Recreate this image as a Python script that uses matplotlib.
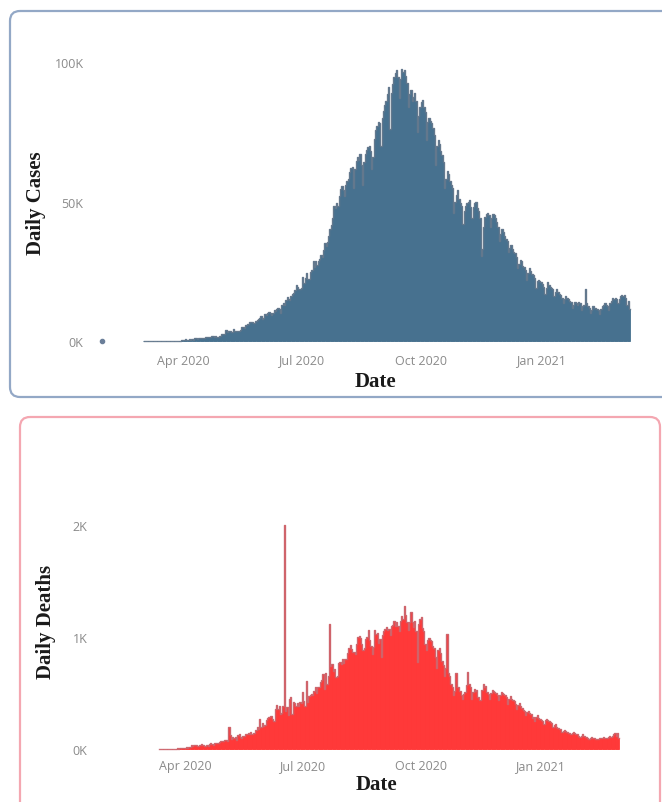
import numpy as np
import pandas as pd
import matplotlib
matplotlib.use('Agg')
import matplotlib.pyplot as plt
import matplotlib.dates as mdates
from matplotlib.patches import FancyBboxPatch

# first sporadic case (thousands)
early_dates = ['2020-01-30']
early_cases = [0.001]

# daily cases in thousands, from 2020-03-02, one week per row
cases_start = '2020-03-02'
cases = [
    0.002, 0.001, 0.022, 0.002, 0.001, 0.003, 0.005,
    0.004, 0.013, 0.006, 0.011, 0.009, 0.02, 0.011,
    0.006, 0.023, 0.014, 0.038, 0.05, 0.086, 0.066,
    0.103, 0.064, 0.111, 0.075, 0.153, 0.143, 0.148,
    0.106, 0.227, 0.4, 0.5, 0.6, 0.5, 0.5,
    0.6, 0.5, 0.6, 0.5, 0.9, 0.9, 0.8,
    0.9, 1.1, 0.9, 1.0, 0.9, 1.3, 1.6,
    1.5, 1.3, 1.6, 1.7, 1.8, 1.4, 1.8,
    1.6, 1.5, 1.9, 1.8, 2.4, 2.4, 2.6,
    3.9, 3.4, 3.6, 3.5, 3.3, 3.3, 4.3,
    3.6, 3.5, 3.7, 3.7, 3.9, 4.9, 5.0,
    4.6, 5.6, 5.6, 6.1, 6.7, 6.7, 6.8,
    6.5, 6.4, 7.2, 7.5, 7.9, 8.4, 8.8,
    8.0, 8.2, 9.6, 9.3, 9.9, 10.4, 9.9,
    9.2, 10.0, 11.1, 10.7, 11.5, 11.9, 11.5,
    10.2, 12.9, 13.6, 12.9, 14.7, 15.9, 15.2,
    14.8, 16.0, 16.9, 17.3, 18.2, 19.9, 19.4,
    18.6, 18.5, 19.1, 22.8, 20.9, 22.7, 24.3,
    22.3, 22.3, 24.9, 25.6, 28.6, 26.6, 28.6,
    27.1, 28.5, 29.4, 31.0, 30.2, 32.5, 35.0,
    34.0, 35.5, 37.5, 40.0, 41.5, 44.0, 48.5,
    47.5, 49.5, 48.5, 52.0, 54.5, 55.5, 54.0,
    52.0, 56.0, 57.5, 58.0, 60.5, 62.0, 62.5,
    55.0, 61.5, 64.5, 66.0, 65.0, 67.0, 63.0,
    56.0, 64.0, 67.0, 68.5, 69.5, 70.0, 68.0,
    61.5, 66.0, 72.5, 75.5, 77.0, 78.5, 78.0,
    70.0, 80.0, 82.5, 84.5, 86.0, 88.5, 91.0,
    76.0, 89.0, 92.0, 94.5, 96.0, 97.0, 94.5,
    87.0, 94.0, 97.5, 96.5, 97.0, 95.0, 92.5,
    84.0, 88.5, 90.0, 86.0, 87.5, 89.0, 86.0,
    75.0, 80.5, 84.0, 85.5, 86.5, 84.0, 82.0,
    72.0, 78.5, 80.0, 79.0, 78.0, 76.5, 74.0,
    63.0, 70.0, 72.0, 70.5, 68.0, 66.5, 64.0,
    55.0, 58.0, 61.0, 60.0, 57.5, 56.0, 55.0,
    46.0, 50.0, 52.5, 54.0, 51.0, 49.5, 48.5,
    42.0, 46.5, 48.5, 49.5, 50.0, 50.5, 48.0,
    44.0, 48.0, 49.5, 50.0, 47.5, 46.5, 44.0,
    30.5, 33.0, 41.0, 44.5, 45.5, 46.0, 45.0,
    41.0, 44.0, 45.5, 45.0, 44.0, 42.5, 41.0,
    36.0, 38.5, 40.0, 39.0, 37.5, 36.5, 36.0,
    32.0, 33.5, 34.5, 33.0, 32.0, 31.5, 30.0,
    26.0, 27.5, 29.0, 28.5, 27.0, 26.5, 25.5,
    22.0, 24.5, 26.0, 25.0, 24.0, 23.5, 22.5,
    19.0, 21.5, 22.0, 21.5, 21.0, 20.5, 19.5,
    17.0, 19.0, 21.0, 20.0, 19.5, 19.0, 18.5,
    16.0, 17.5, 18.5, 17.5, 17.0, 16.5, 15.5,
    13.5, 15.0, 16.0, 15.5, 15.0, 14.5, 14.0,
    12.0, 13.0, 14.0, 13.5, 13.0, 14.0, 13.5,
    11.0, 12.5, 13.0, 18.5, 13.5, 12.5, 12.0,
    10.0, 11.0, 12.5, 12.0, 12.0, 11.5, 11.0,
    9.5, 11.5, 12.5, 13.0, 13.5, 13.0, 12.5,
    11.0, 13.5, 14.5, 15.5, 15.0, 15.5, 15.0,
    13.5, 15.0, 16.0, 16.5, 16.0, 16.5, 15.5,
    13.0, 14.5, 11.5,
]

# daily deaths in thousands, from 2020-03-12
deaths_start = '2020-03-12'
deaths = [
    0.001, 0.001, 0.0, 0.001,
    0.0, 0.001, 0.0, 0.001, 0.001, 0.0, 0.003,
    0.002, 0.001, 0.002, 0.006, 0.003, 0.006, 0.006,
    0.005, 0.012, 0.012, 0.015, 0.012, 0.021, 0.022,
    0.032, 0.025, 0.035, 0.033, 0.039, 0.029, 0.034,
    0.035, 0.042, 0.038, 0.026, 0.023, 0.036, 0.031,
    0.045, 0.050, 0.043, 0.037, 0.053, 0.057, 0.051,
    0.056, 0.060, 0.071, 0.073, 0.072, 0.077, 0.083,
    0.069, 0.195, 0.126, 0.089, 0.103, 0.096, 0.111,
    0.084, 0.123, 0.136, 0.103, 0.100, 0.120, 0.120,
    0.130, 0.134, 0.140, 0.132, 0.148, 0.137, 0.142,
    0.145, 0.170, 0.194, 0.175, 0.265, 0.193, 0.230,
    0.204, 0.217, 0.260, 0.273, 0.286, 0.294, 0.297,
    0.266, 0.246, 0.357, 0.396, 0.357, 0.386, 0.311,
    0.325, 0.380, 2.003, 0.341, 0.375, 0.306, 0.445,
    0.465, 0.312, 0.418, 0.407, 0.384, 0.410, 0.380,
    0.42, 0.41, 0.51, 0.43, 0.38, 0.61, 0.42,
    0.47, 0.48, 0.49, 0.48, 0.52, 0.55, 0.50,
    0.55, 0.55, 0.60, 0.62, 0.67, 0.54, 0.68,
    0.58, 0.65, 1.12, 0.74, 0.76, 0.70, 0.71,
    0.64, 0.65, 0.77, 0.78, 0.76, 0.80, 0.77,
    0.80, 0.80, 0.86, 0.90, 0.93, 0.89, 0.87,
    0.87, 0.85, 0.94, 1.00, 1.01, 0.99, 0.94,
    0.88, 0.90, 0.98, 1.00, 1.06, 0.97, 0.92,
    0.85, 0.91, 1.06, 1.03, 1.04, 0.95, 0.98,
    0.82, 1.02, 1.05, 1.07, 1.09, 1.06, 1.07,
    1.02, 1.10, 1.11, 1.14, 1.10, 1.13, 1.10,
    1.05, 1.14, 1.19, 1.16, 1.28, 1.20, 1.13,
    1.06, 1.13, 1.22, 1.13, 1.09, 1.14, 1.05,
    0.78, 1.12, 1.16, 1.18, 1.08, 1.05, 0.94,
    0.88, 0.97, 0.99, 0.97, 0.96, 0.92, 0.90,
    0.82, 0.72, 0.88, 0.90, 0.86, 0.79, 0.75,
    0.65, 0.72, 1.03, 0.68, 0.65, 0.58, 0.55,
    0.48, 0.52, 0.68, 0.55, 0.55, 0.52, 0.48,
    0.45, 0.49, 0.51, 0.57, 0.69, 0.58, 0.55,
    0.45, 0.51, 0.54, 0.52, 0.53, 0.46, 0.44,
    0.44, 0.53, 0.58, 0.55, 0.56, 0.51, 0.49,
    0.45, 0.50, 0.53, 0.52, 0.51, 0.50, 0.48,
    0.44, 0.48, 0.51, 0.50, 0.49, 0.48, 0.46,
    0.40, 0.45, 0.47, 0.45, 0.44, 0.43, 0.40,
    0.36, 0.39, 0.41, 0.38, 0.37, 0.35, 0.34,
    0.30, 0.33, 0.34, 0.32, 0.31, 0.28, 0.29,
    0.25, 0.29, 0.30, 0.28, 0.27, 0.26, 0.25,
    0.22, 0.26, 0.27, 0.26, 0.25, 0.24, 0.23,
    0.20, 0.21, 0.22, 0.20, 0.19, 0.18, 0.18,
    0.15, 0.16, 0.17, 0.16, 0.15, 0.14, 0.14,
    0.13, 0.14, 0.15, 0.14, 0.13, 0.13, 0.12,
    0.11, 0.12, 0.13, 0.12, 0.11, 0.11, 0.10,
    0.09, 0.10, 0.11, 0.10, 0.10, 0.09, 0.09,
    0.09, 0.10, 0.10, 0.10, 0.11, 0.10, 0.10,
    0.10, 0.11, 0.12, 0.11, 0.12, 0.13, 0.14,
    0.12, 0.14, 0.10,
]

tick_dates = ['2020-04-01', '2020-07-01', '2020-10-01', '2021-01-01']
tick_labels = ['Apr 2020', 'Jul 2020', 'Oct 2020', 'Jan 2021']

W, H = 662, 803
fig = plt.figure(figsize=(W / 100, H / 100), dpi=100)

# background axes in pixel units for the rounded panel frames
bg = fig.add_axes([0, 0, 1, 1], zorder=0)
bg.set_xlim(0, W)
bg.set_ylim(H, 0)
bg.axis('off')
bg.add_patch(FancyBboxPatch((10, 12), 670, 386, boxstyle='round,pad=0,rounding_size=10',
                            fill=False, edgecolor='#93a8c6', linewidth=1.6))
bg.add_patch(FancyBboxPatch((20, 418), 640, 400, boxstyle='round,pad=0,rounding_size=10',
                            fill=False, edgecolor='#f4a7b1', linewidth=1.6))

tick_font = dict(family='Open Sans', size=9, color='#8a8a8a')
title_font = dict(family='Liberation Serif', size=15, weight='bold', color='#1a1a1a')

xlim = (pd.Timestamp('2020-01-22'), pd.Timestamp('2021-03-18'))


def style(ax, yticks, ylabels, pad):
    ax.set_xlim(xlim)
    for s in ax.spines.values():
        s.set_visible(False)
    ax.set_yticks(yticks)
    ax.set_yticklabels(ylabels, **tick_font)
    ax.set_xticks(pd.to_datetime(tick_dates))
    ax.set_xticklabels(tick_labels, **tick_font)
    ax.tick_params(length=0, pad=pad)
    ax.patch.set_alpha(0)


def draw(ax, dates, vals, fill, line):
    ax.bar(dates, vals, width=1.0, color=fill, edgecolor=fill, linewidth=0.6)
    ax.step(dates, vals, where='mid', color=line, linewidth=1.0, alpha=0.85)


# cases panel
ax1 = fig.add_axes([0.1388, 0.5689, 0.828, 0.3665], zorder=1)
d1 = pd.date_range(cases_start, periods=len(cases), freq='D')
ax1.plot(pd.to_datetime(early_dates), early_cases, 'o', ms=3, color='#6b7f99')
draw(ax1, d1, cases, '#47718f', '#66788c')
ax1.set_ylim(-1.5, 104)
style(ax1, [0, 50, 100], ['0K', '50K', '100K'], 6)

# deaths panel
ax2 = fig.add_axes([0.1429, 0.0618, 0.821, 0.3529], zorder=1)
d2 = pd.date_range(deaths_start, periods=len(deaths), freq='D')
draw(ax2, d2, deaths, '#ff3838', '#c76a72')
ax2.set_ylim(-0.03, 2.5)
style(ax2, [0, 1, 2], ['0K', '1K', '2K'], 5)

fig.text(36 / W, 1 - 203 / H, 'Daily Cases', rotation=90, ha='center', va='center', **title_font)
fig.text(375 / W, 1 - 382 / H, 'Date', ha='center', va='center', **title_font)
fig.text(46 / W, 1 - 622 / H, 'Daily Deaths', rotation=90, ha='center', va='center', **title_font)
fig.text(376 / W, 1 - 785 / H, 'Date', ha='center', va='center', **title_font)

fig.savefig('out.png', dpi=100)
